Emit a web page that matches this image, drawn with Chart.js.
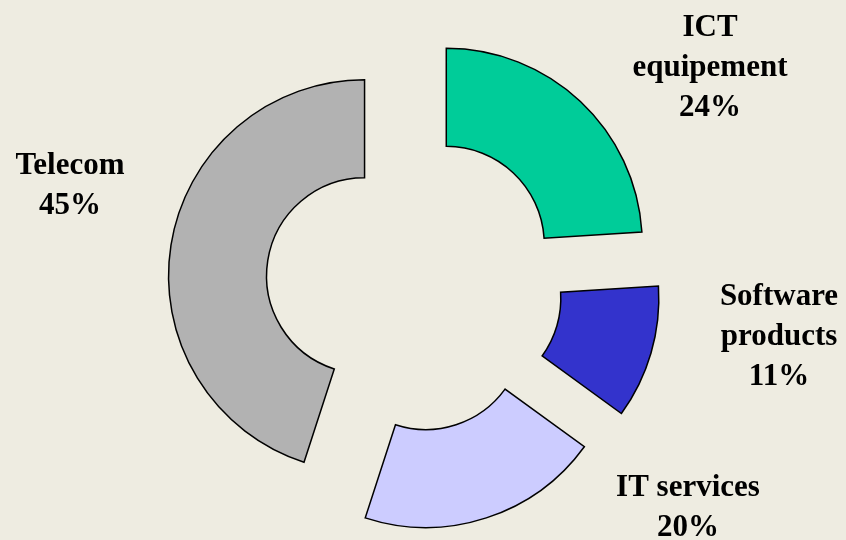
<!DOCTYPE html>
<html>
<head>
<meta charset="utf-8">
<script src="https://cdn.jsdelivr.net/npm/chart.js@4/dist/chart.umd.min.js"></script>
<style>
  html, body { margin: 0; padding: 0; background: #EEECE1; }
  #wrap { width: 846px; height: 540px; }
</style>
</head>
<body>
<div id="wrap"><canvas id="c" width="846" height="540"></canvas></div>
<script>
// ---- data ----
const categories = ['ICT equipement', 'Software products', 'IT services', 'Telecom'];
const labelLines = [['ICT', 'equipement'], ['Software', 'products'], ['IT services'], ['Telecom']];
const shares = [24, 11, 20, 45];

// ---- style ----
const colors = ['#00CC99', '#3333CC', '#CCCCFF', '#B2B2B2'];
const explode = [53, 55, 51, 46];           // pixel distance each slice is pulled out
const labelPos = [[710, 36], [779, 305], [688, 496], [70, 174]]; // centre x, first baseline
const lineH = 40;

const bgPlugin = {
  id: 'bg',
  beforeDraw(chart) {
    const ctx = chart.ctx;
    ctx.save();
    ctx.fillStyle = '#EEECE1';
    ctx.fillRect(0, 0, chart.width, chart.height);
    ctx.restore();
  }
};

const explodePlugin = {
  id: 'explode',
  beforeDatasetsDraw(chart) {
    const arcs = chart.getDatasetMeta(0).data;
    arcs.forEach((a, i) => {
      const mid = (a.startAngle + a.endAngle) / 2;
      a._dx = Math.cos(mid) * explode[i];
      a._dy = Math.sin(mid) * explode[i];
      a.x += a._dx; a.y += a._dy;
    });
  },
  afterDatasetsDraw(chart) {
    const arcs = chart.getDatasetMeta(0).data;
    arcs.forEach(a => { a.x -= a._dx; a.y -= a._dy; });
  }
};

const labelPlugin = {
  id: 'labels',
  afterDraw(chart) {
    const ctx = chart.ctx;
    ctx.save();
    ctx.fillStyle = '#000000';
    ctx.font = 'bold 31px "Liberation Serif", "Times New Roman", serif';
    ctx.textAlign = 'center';
    ctx.textBaseline = 'alphabetic';
    const data = chart.data.datasets[0].data;
    data.forEach((v, i) => {
      const lines = labelLines[i].concat([v + '%']);
      const [x, y] = labelPos[i];
      lines.forEach((t, k) => ctx.fillText(t, x, y + k * lineH));
    });
    ctx.restore();
  }
};

new Chart(document.getElementById('c'), {
  type: 'doughnut',
  data: {
    labels: categories,
    datasets: [{
      data: shares,
      backgroundColor: colors,
      borderColor: '#000000',
      borderWidth: 1.5,
      borderJoinStyle: 'miter'
    }]
  },
  options: {
    responsive: false,
    animation: false,
    devicePixelRatio: 1,
    radius: 196,
    cutout: '50%',
    layout: { padding: { left: 0, right: 26, top: 26, bottom: 0 } },
    plugins: {
      legend: { display: false },
      tooltip: { enabled: false }
    }
  },
  plugins: [bgPlugin, explodePlugin, labelPlugin]
});
</script>
</body>
</html>
